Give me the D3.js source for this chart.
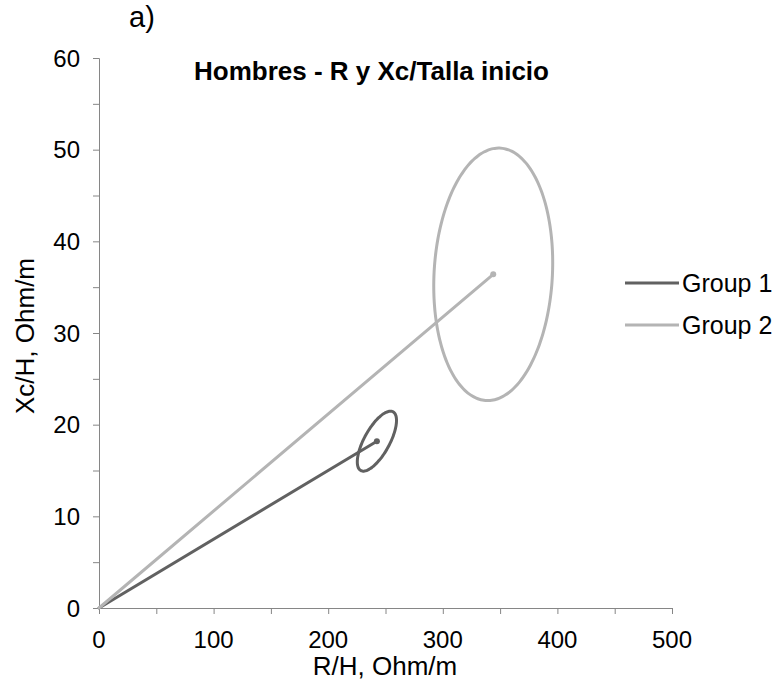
<!DOCTYPE html>
<html>
<head>
<meta charset="utf-8">
<script src="https://cdn.jsdelivr.net/npm/d3@7"></script>
<style>
  html, body { margin: 0; padding: 0; background: #fff; }
  svg { display: block; font-family: "Liberation Sans", Arial, sans-serif; }
</style>
</head>
<body>
<svg id="chart" width="784" height="688"></svg>
<script>
// Series: centre of each group (mean R/H, mean Xc/H) and its confidence ellipse
const groups   = ["Group 1", "Group 2"];
const meanR    = [242.5, 344.0];   // R/H, Ohm/m
const meanXc   = [18.2, 36.4];     // Xc/H, Ohm/m
const spreadR  = [17.1, 51.9];     // half-width of ellipse along R/H
const spreadXc = [3.27, 13.77];    // half-height of ellipse along Xc/H
const corrRXc  = [0.69, 0.092];    // correlation between R/H and Xc/H
const colors   = ["#616161", "#b4b4b4"];

// Axis ticks
const xTickLabels = [0, 100, 200, 300, 400, 500];
const xTicksAll   = d3.range(0, 501, 50);
const yTickLabels = [0, 10, 20, 30, 40, 50, 60];
const yTicksAll   = d3.range(0, 61, 5);

const svg = d3.select("#chart");
const x = d3.scaleLinear().domain([0, 500]).range([99, 672]);
const y = d3.scaleLinear().domain([0, 60]).range([608, 58]);

const axisColor = "#868686";
const tickFont = 24, titleFont = 26;

// X axis
const gx = svg.append("g").attr("transform", `translate(0,${y(0)})`);
gx.call(d3.axisBottom(x).tickValues(xTicksAll).tickSize(6).tickFormat(""));
gx.select(".domain").attr("stroke", axisColor);
gx.selectAll(".tick line").attr("stroke", axisColor);
svg.append("g").selectAll("text").data(xTickLabels).join("text")
  .attr("x", d => x(d)).attr("y", 648)
  .attr("text-anchor", "middle").attr("font-size", tickFont).attr("fill", "#000")
  .text(d => d);

// Y axis
const gy = svg.append("g").attr("transform", `translate(${x(0)},0)`);
gy.call(d3.axisLeft(y).tickValues(yTicksAll).tickSize(6).tickFormat(""));
gy.select(".domain").attr("stroke", axisColor);
gy.selectAll(".tick line").attr("stroke", axisColor);
svg.append("g").selectAll("text").data(yTickLabels).join("text")
  .attr("x", 80).attr("y", d => y(d)).attr("dy", "0.36em")
  .attr("text-anchor", "end").attr("font-size", tickFont).attr("fill", "#000")
  .text(d => d);

// Axis titles
svg.append("text").attr("x", 385).attr("y", 675)
  .attr("text-anchor", "middle").attr("font-size", titleFont).text("R/H, Ohm/m");
svg.append("text").attr("transform", "translate(34,336) rotate(-90)")
  .attr("text-anchor", "middle").attr("font-size", titleFont).text("Xc/H, Ohm/m");

// Chart title and panel letter
svg.append("text").attr("x", 194).attr("y", 80)
  .attr("text-anchor", "start").attr("font-size", 26).attr("font-weight", "bold")
  .text("Hombres - R y Xc/Talla inicio");
svg.append("text").attr("x", 129).attr("y", 27)
  .attr("font-size", 29).text("a)");

// Ellipse outline from centre, spreads and correlation
function ellipsePoints(i) {
  const r = corrRXc[i], s = Math.sqrt(1 - r * r);
  return d3.range(0, 360, 3).map(a => {
    const t = a * Math.PI / 180;
    return [meanR[i] + spreadR[i] * Math.cos(t),
            meanXc[i] + spreadXc[i] * (r * Math.cos(t) + s * Math.sin(t))];
  });
}
const line = d3.line().x(d => x(d[0])).y(d => y(d[1])).curve(d3.curveCardinalClosed);

const plot = svg.append("g");
[0, 1].forEach(i => {
  const g = plot.append("g");
  g.append("line")
    .attr("x1", x(0)).attr("y1", y(0))
    .attr("x2", x(meanR[i])).attr("y2", y(meanXc[i]))
    .attr("stroke", colors[i]).attr("stroke-width", 3).attr("stroke-linecap", "round");
  g.append("circle")
    .attr("cx", x(meanR[i])).attr("cy", y(meanXc[i])).attr("r", 3)
    .attr("fill", colors[i]);
  g.append("path")
    .attr("d", line(ellipsePoints(i)))
    .attr("fill", "none").attr("stroke", colors[i]).attr("stroke-width", 3);
});

// Legend
const legendY = [283, 325];
const lg = svg.append("g");
groups.forEach((name, i) => {
  lg.append("line")
    .attr("x1", 625).attr("x2", 679).attr("y1", legendY[i]).attr("y2", legendY[i])
    .attr("stroke", colors[i]).attr("stroke-width", 3);
  lg.append("text")
    .attr("x", 682).attr("y", legendY[i]).attr("dy", "0.36em")
    .attr("font-size", 25).attr("fill", "#000").text(name);
});
</script>
</body>
</html>
